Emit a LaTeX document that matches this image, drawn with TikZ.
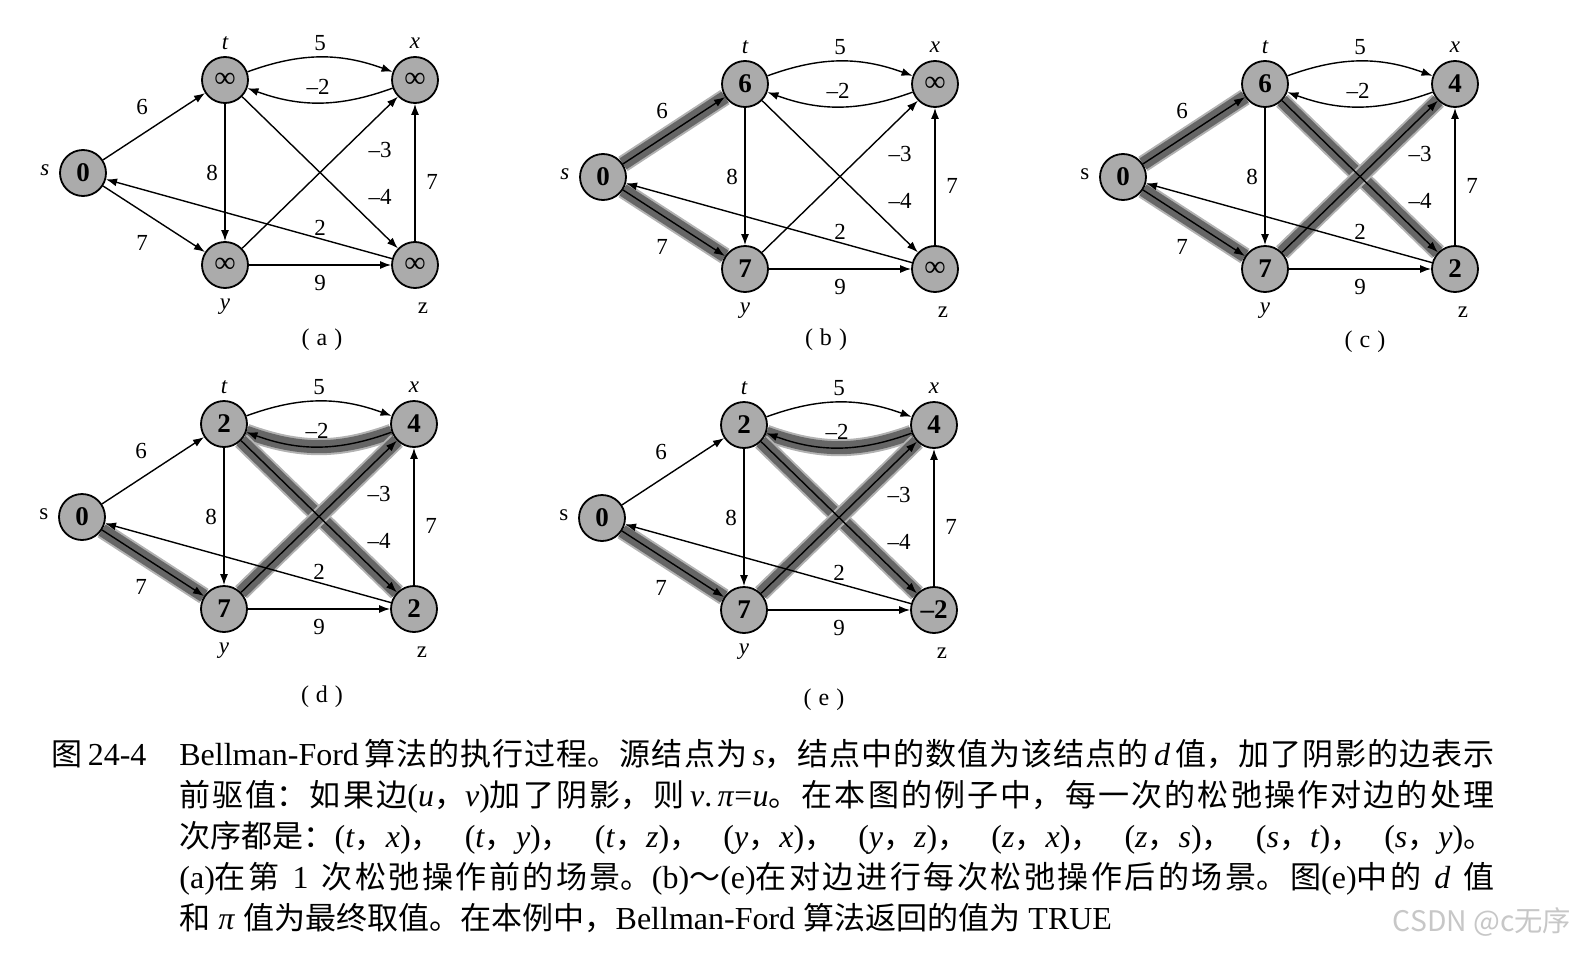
\documentclass[tikz,border=0pt]{standalone}
\usepackage{fontspec}
\setmainfont{Liberation Serif}
\newfontfamily\cjk[Scale=0.97]{Noto Sans CJK SC}
\usepackage{tikz}
\usetikzlibrary{arrows.meta,backgrounds}
\XeTeXlinebreaklocale "zh"
\XeTeXlinebreakskip=0pt plus 1pt

\tikzstyle{vtx}      =[circle, draw=black, line width=0.9pt, fill=black!33,
                        minimum size=23pt, inner sep=0pt,
                        font=\fontsize{13.5pt}{14pt}\selectfont\bfseries]
\tikzstyle{vname}    =[inner sep=0pt, font=\fontsize{11.5pt}{12pt}\selectfont\itshape]
\tikzstyle{wlab}     =[inner sep=0pt, font=\fontsize{11.5pt}{12pt}\selectfont]
\tikzstyle{arr}      =[-{Latex[length=5.5pt,width=4pt]}, line width=0.7pt]
\tikzstyle{shadeedge}=[line width=6.5pt, draw=black!60,
                        preaction={draw=black!30, line width=8.5pt}]
\tikzstyle{sublab}   =[inner sep=0pt, font=\fontsize{12pt}{12pt}\selectfont]
\tikzstyle{captxt}   =[anchor=base west, inner sep=0pt, text width=657.5pt, align=justify,
                        font=\fontsize{16pt}{20.5pt}\selectfont]

\newcommand{\dinf}{{\mdseries\fontsize{15pt}{15pt}\selectfont ∞}}
\newcommand{\sub}[1]{(\hspace{3.5pt}#1\hspace{3.5pt})}

% one Bellman-Ford snapshot: #1 prefix, #2 position of s, #3-#7 d-values, #8 shape of the s label
\newcommand{\bfgraph}[8]{%
  \begin{scope}[shift={#2}]
    \node[vtx] (#1-s) at (0,0)     {#3};
    \node[vtx] (#1-t) at (142,-93) {#4};
    \node[vtx] (#1-x) at (332,-93) {#5};
    \node[vtx] (#1-y) at (142,92)  {#6};
    \node[vtx] (#1-z) at (332,92)  {#7};
    \node[vname] (#1-ns) at (-41,-3)  {#8 s};
    \node[vname] (#1-nt) at (142,-130) {t};
    \node[vname] (#1-nx) at (332,-130) {x};
    \node[vname] (#1-ny) at (142,134)  {y};
    \node[vname] (#1-nz) at (340,135)  {\upshape z};
    \draw[arr] (#1-s) -- (#1-t);
    \draw[arr] (#1-s) -- (#1-y);
    \draw[arr] (#1-t) to[bend left=20] (#1-x);
    \draw[arr] (#1-x) to[bend left=20] (#1-t);
    \draw[arr] (#1-t) -- (#1-y);
    \draw[arr] (#1-t) -- (#1-z);
    \draw[arr] (#1-y) -- (#1-x);
    \draw[arr] (#1-z) -- (#1-x);
    \draw[arr] (#1-y) -- (#1-z);
    \draw[arr] (#1-z) -- (#1-s);
    \node[wlab] (#1-w5)  at (237,-130) {5};
    \node[wlab] (#1-wm2) at (235,-86)  {\textendash2};
    \node[wlab] (#1-w6)  at (59,-66)   {6};
    \node[wlab] (#1-w8)  at (129,0)    {8};
    \node[wlab] (#1-w7a) at (59,70)    {7};
    \node[wlab] (#1-wm3) at (297,-23)  {\textendash3};
    \node[wlab] (#1-wm4) at (297,24)   {\textendash4};
    \node[wlab] (#1-w7b) at (349,9)    {7};
    \node[wlab] (#1-w2)  at (237,55)   {2};
    \node[wlab] (#1-w9)  at (237,110)  {9};
  \end{scope}
}

\begin{document}
\begin{tikzpicture}[x=0.5pt, y=-0.5pt]
  \useasboundingbox (0,0) rectangle (1580,958);

  % ── the five snapshots ─────────────────────────────────────────────────────
  \bfgraph{a}{(83,173)}{0}{\dinf}{\dinf}{\dinf}{\dinf}{\itshape}
  \bfgraph{b}{(603,177)}{0}{6}{\dinf}{7}{\dinf}{\itshape}
  \bfgraph{c}{(1123,177)}{0}{6}{4}{7}{2}{\upshape}
  \bfgraph{d}{(82,517)}{0}{2}{4}{7}{2}{\upshape}
  \bfgraph{e}{(602,518)}{0}{2}{4}{7}{\textendash2}{\upshape}

  \node[sublab] (capa) at (322,340) {\sub{a}};
  \node[sublab] (capb) at (826,340) {\sub{b}};
  \node[sublab] (capc) at (1365,342) {\sub{c}};
  \node[sublab] (capd) at (322,697) {\sub{d}};
  \node[sublab] (cape) at (824,700) {\sub{e}};

  % ── shaded predecessor edges ───────────────────────────────────────────────
  \begin{scope}[on background layer]
    \draw[shadeedge] (b-s) -- (b-t);
    \draw[shadeedge] (b-s) -- (b-y);
    \draw[shadeedge] (c-s) -- (c-t);
    \draw[shadeedge] (c-s) -- (c-y);
    \draw[shadeedge] (c-t) -- (c-z);
    \draw[shadeedge] (c-y) -- (c-x);
    \draw[shadeedge] (d-s) -- (d-y);
    \draw[shadeedge] (d-x) to[bend left=20] (d-t);
    \draw[shadeedge] (d-t) -- (d-z);
    \draw[shadeedge] (d-y) -- (d-x);
    \draw[shadeedge] (e-s) -- (e-y);
    \draw[shadeedge] (e-x) to[bend left=20] (e-t);
    \draw[shadeedge] (e-t) -- (e-z);
    \draw[shadeedge] (e-y) -- (e-x);
  \end{scope}

  % ── caption ────────────────────────────────────────────────────────────────
  \node[anchor=base west, inner sep=0pt, font=\fontsize{16pt}{20.5pt}\selectfont]
    (fignum) at (51,765) {{\cjk 图}\,24-4};
  \node[captxt] (cap) at (179,765) {%
    Bellman-Ford\,{\cjk 算法的执行过程。源结点为}\,\textit{s}{\cjk ，结点中的数值为该结点的}\,\textit{d}\,{\cjk 值，加了阴影的边表示}\linebreak
    {\cjk 前驱值：如果边}(\textit{u}{\cjk ，}\textit{v}){\cjk 加了阴影，则}\,\textit{v}.\,\textit{π}=\textit{u}{\cjk 。在本图的例子中，每一次的松弛操作对边的处理}\linebreak
    {\cjk 次序都是：}(\textit{t}{\cjk ，}\textit{x}){\cjk ，}\hfill(\textit{t}{\cjk ，}\textit{y}){\cjk ，}\hfill(\textit{t}{\cjk ，}\textit{z}){\cjk ，}\hfill(\textit{y}{\cjk ，}\textit{x}){\cjk ，}\hfill(\textit{y}{\cjk ，}\textit{z}){\cjk ，}\hfill(\textit{z}{\cjk ，}\textit{x}){\cjk ，}\hfill(\textit{z}{\cjk ，}\textit{s}){\cjk ，}\hfill(\textit{s}{\cjk ，}\textit{t}){\cjk ，}\hfill(\textit{s}{\cjk ，}\textit{y}){\cjk 。}\linebreak
    (a){\cjk 在第} 1 {\cjk 次松弛操作前的场景。}(b){\cjk ～}(e){\cjk 在对边进行每次松弛操作后的场景。图}(e){\cjk 中的} \textit{d} {\cjk 值}\linebreak
    {\cjk 和} \textit{π} {\cjk 值为最终取值。在本例中，}Bellman-Ford {\cjk 算法返回的值为} TRUE};

  \node[text=black!22, font=\cjk\fontsize{14.6pt}{15pt}\selectfont] (mark) at (1482,922) {CSDN @c无序};

\end{tikzpicture}
\end{document}
